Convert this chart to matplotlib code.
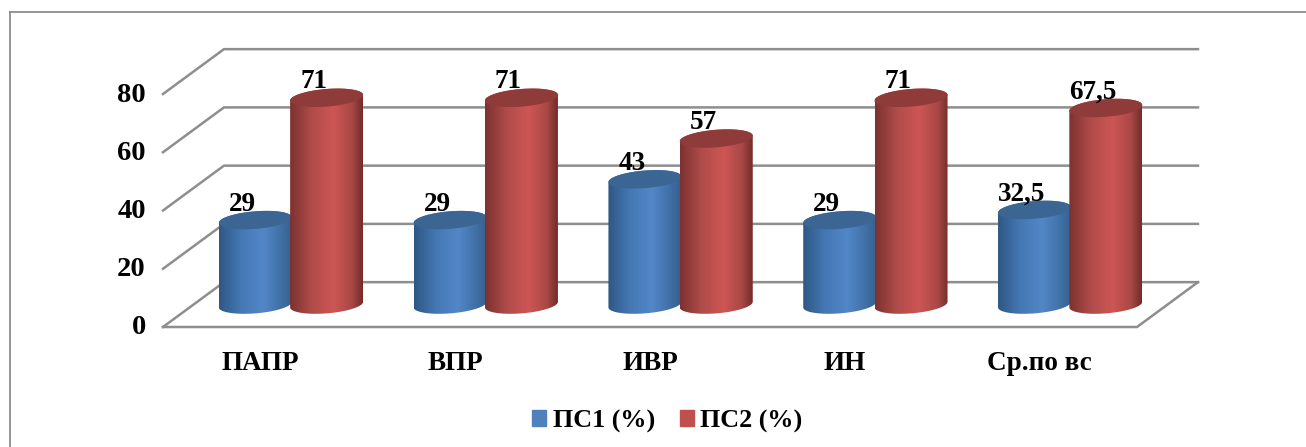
import numpy as np
import matplotlib
matplotlib.use("Agg")
import matplotlib.pyplot as plt
from matplotlib.patches import PathPatch, Patch
from matplotlib.path import Path
from matplotlib.transforms import ScaledTranslation

categories = ["ПАПР", "ВПР", "ИВР", "ИН", "Ср.по вс"]
ps1 = [29, 29, 43, 29, 32.5]
ps2 = [71, 71, 57, 71, 67.5]
ps1_labels = ["29", "29", "43", "29", "32,5"]
ps2_labels = ["71", "71", "57", "71", "67,5"]
y_ticks = [0, 20, 40, 60, 80]
series_names = ["ПС1 (%)", "ПС2 (%)"]

W, H = 1306, 447
GRID = "#8e8e8e"
BLUE_STOPS = ["#2f5784", "#4478b4", "#5287c8", "#4070a6", "#375f8e"]
RED_STOPS = ["#7c3230", "#b04c4a", "#cd5654", "#a94846", "#722c2b"]
BLUE_TOP = "#3b6694"
RED_TOP = "#8f3b3a"

plt.rcParams["font.family"] = ["Liberation Serif", "DejaVu Serif"]
plt.rcParams["font.weight"] = "bold"


def ramp(stops):
    #horizontal shading across the cylinder
    pos = np.array([0, 0.3, 0.6, 0.85, 1])
    t = np.linspace(0, 1, 128)
    rgb = np.array([matplotlib.colors.to_rgb(s) for s in stops])
    return np.stack([np.interp(t, pos, rgb[:, i]) for i in range(3)], axis=1)[None, :, :]


def cylinder(ax, xc, value, stops, top_col, z):
    #half width and ellipse sizes are in pixels, converted to data units
    ppx = ax_w / 5.0
    ppy = ax_h / 80.0
    a = HALF_W / ppx
    b = ELL_B / ppy
    tilt = ELL_SHEAR / ppy
    t = np.linspace(0, 2 * np.pi, 120)
    x0 = xc + DEPTH_X
    y0 = DEPTH_Y
    y1 = y0 + value
    lower = np.linspace(np.pi, 2 * np.pi, 60)
    upper = np.linspace(0, np.pi, 60)
    bx = x0 + np.cos(lower) * a
    by = y0 + np.sin(lower) * b + np.cos(lower) * tilt
    tx = x0 + np.cos(upper) * a
    ty = y1 + np.sin(upper) * b + np.cos(upper) * tilt
    body = Path(np.column_stack([np.r_[bx, tx], np.r_[by, ty]]))
    img = ax.imshow(ramp(stops), extent=[x0 - a, x0 + a, y0 - 2 * b, y1 + 2 * b],
                    aspect="auto", zorder=z, interpolation="bilinear")
    patch = PathPatch(body, transform=ax.transData, fc="none", ec="none", zorder=z)
    ax.add_patch(patch)
    patch.set_clip_on(False)
    img.set_clip_box(fig.bbox)  # bars go past the front plane, axes box must not cut them
    img.set_clip_path(patch)
    ax.fill(x0 + np.cos(t) * a, y1 + np.sin(t) * b + np.cos(t) * tilt, color=top_col, lw=0,
            zorder=z + 0.1, clip_on=False)


ax_l, ax_r, ax_t, ax_b = 163, 1137, 94, 327
ax_w, ax_h = ax_r - ax_l, ax_b - ax_t
HALF_W = 36.5
ELL_B = 8.8
ELL_SHEAR = 2.8
BAR_OFF = 0.183
DEPTH_X = 0.157   # bars stand half way back on the floor
DEPTH_Y = 7.7
BACK_X = 0.313
BACK_Y = 15.4

fig = plt.figure(figsize=(W / 100, H / 100), dpi=100)
ax = fig.add_axes([ax_l / W, 1 - ax_b / H, ax_w / W, ax_h / H])
ax.patch.set_alpha(0)

# chart frame
for xs, ys in [([9.5, 9.5], [12, 447]), ([9.5, 1306], [12, 12])]:
    fig.add_artist(plt.Line2D([x / W for x in xs], [1 - y / H for y in ys], color=GRID, lw=1.3))

# walls of the 3d box
x_lo, x_hi = -0.5, 4.5
for v in y_ticks:
    ax.plot([x_lo, x_lo + BACK_X, x_hi + BACK_X], [v, v + BACK_Y, v + BACK_Y],
            color=GRID, lw=1.8, clip_on=False, zorder=1, solid_joinstyle="miter")
ax.plot([x_lo, x_hi, x_hi + BACK_X], [0, 0, BACK_Y], color=GRID, lw=1.8,
        clip_on=False, zorder=1, solid_joinstyle="miter")

for i in range(len(categories)):
    cylinder(ax, i - BAR_OFF, ps1[i], BLUE_STOPS, BLUE_TOP, 3)
    cylinder(ax, i + BAR_OFF, ps2[i], RED_STOPS, RED_TOP, 4)
    ax.annotate(ps1_labels[i], (i - BAR_OFF + DEPTH_X, ps1[i] + DEPTH_Y), xytext=(-13, 16),
                textcoords="offset pixels", ha="center", va="center", fontsize=19.5, zorder=6,
                annotation_clip=False)
    ax.annotate(ps2_labels[i], (i + BAR_OFF + DEPTH_X, ps2[i] + DEPTH_Y), xytext=(-13, 16),
                textcoords="offset pixels", ha="center", va="center", fontsize=19.5, zorder=6,
                annotation_clip=False)

ax.set_xlim(x_lo, x_hi)
ax.set_ylim(0, 80)
ax.set_xticks(range(len(categories)))
ax.set_xticklabels(categories, fontsize=19.5, fontweight="bold")
ax.set_yticks(y_ticks)
ax.tick_params(axis="x", length=0, pad=17)
ax.tick_params(axis="y", length=0, pad=12.5, labelsize=20.5)
for lab in ax.get_yticklabels():
    lab.set_verticalalignment("center")
    lab.set_transform(lab.get_transform() + ScaledTranslation(0, -1 / 100, fig.dpi_scale_trans))
for s in ax.spines.values():
    s.set_visible(False)

handles = [Patch(color="#4f81bd"), Patch(color="#c0504d")]
fig.legend(handles, series_names, loc="center", bbox_to_anchor=(667.5 / W, 1 - 421 / H),
           ncol=2, frameon=False, fontsize=18.8, handlelength=0.54, handleheight=0.54,
           handletextpad=0.24, columnspacing=0.96, borderpad=0, borderaxespad=0)

fig.savefig("out.png", dpi=100)
